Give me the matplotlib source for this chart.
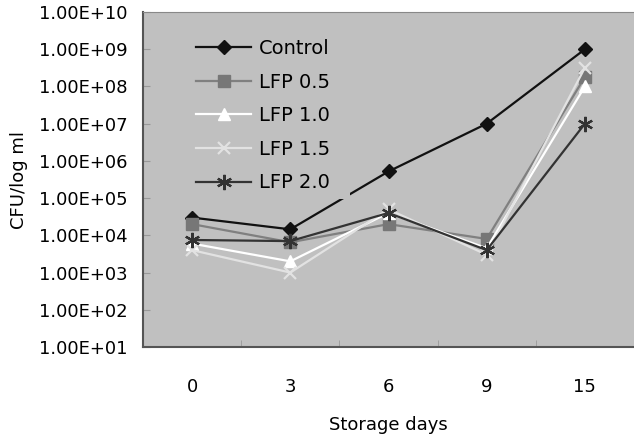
import matplotlib.pyplot as plt
from matplotlib.patches import Rectangle
import numpy as np

# storage days (category axis)
days = ["0", "3", "6", "9", "15"]

control = [3.0e4, 1.45e4, 5.2e5, 1.0e7, 1.0e9]
lfp05 = [2.0e4, 6.5e3, 2.0e4, 8.0e3, 1.8e8]
lfp10 = [6.0e3, 2.0e3, 4.0e4, 4.5e3, 1.0e8]
lfp15 = [4.0e3, 1.0e3, 5.0e4, 3.0e3, 3.2e8]
lfp20 = [7.5e3, 7.0e3, 4.0e4, 4.0e3, 1.0e7]

yticks = [1e1, 1e2, 1e3, 1e4, 1e5, 1e6, 1e7, 1e8, 1e9, 1e10]
ytick_labels = ["1.00E+01", "1.00E+02", "1.00E+03", "1.00E+04", "1.00E+05",
                "1.00E+06", "1.00E+07", "1.00E+08", "1.00E+09", "1.00E+10"]

plt.rcParams["font.family"] = ["DejaVu Sans"]

fig = plt.figure(figsize=(6.34, 4.36), dpi=100)
ax = fig.add_axes([143 / 634, 1 - 347 / 436, 1 - 143 / 634, 335 / 436])
ax.set_facecolor("#c0c0c0")

x = np.arange(len(days))
ax.plot(x, control, color="#111111", lw=1.6, marker="D", ms=7, mfc="#111111", mec="#111111", label="Control")
ax.plot(x, lfp05, color="#808080", lw=1.6, marker="s", ms=8, mfc="#777777", mec="#777777", label="LFP 0.5")
ax.plot(x, lfp10, color="#ffffff", lw=1.6, marker="^", ms=8, mfc="#ffffff", mec="#ffffff", label="LFP 1.0")
ax.plot(x, lfp15, color="#e2e2e2", lw=1.6, marker="x", ms=9, mew=1.6, mec="#e2e2e2", label="LFP 1.5")
ax.plot(x, lfp20, color="#333333", lw=1.6, marker=(6, 2, 0), ms=11, mew=1.6, mec="#333333", label="LFP 2.0")

ax.set_yscale("log")
ax.set_ylim(1e1, 1e10)
ax.set_yticks(yticks)
ax.set_yticklabels(ytick_labels)
ax.yaxis.set_minor_locator(plt.NullLocator())
ax.set_xlim(-0.5, len(days) - 0.5)
ax.set_xticks(x)
ax.set_xticklabels(days)
ax.set_xticks(np.arange(0.5, len(days) - 1, 1.0), minor=True)

ax.tick_params(axis="y", direction="in", length=5, color="#999999", labelsize=13, pad=11)
ax.tick_params(axis="x", which="major", length=0, labelsize=13, pad=22)
ax.tick_params(axis="x", which="minor", direction="in", length=5, color="#999999")

for side in ["left", "bottom"]:
    ax.spines[side].set_color("#555555")
    ax.spines[side].set_linewidth(1.5)
ax.spines["top"].set_color("#888888")
ax.spines["right"].set_visible(False)

ax.set_ylabel("CFU/log ml", fontsize=13, labelpad=8)
ax.set_xlabel("Storage days", fontsize=13, labelpad=15)

# legend box (plain grey, no border) sits over the lines like in the original
ax.add_patch(Rectangle((0.059, 0.442), 0.3625, 0.528, transform=ax.transAxes,
                       facecolor="#c0c0c0", edgecolor="none", zorder=4))
leg = ax.legend(loc="upper left", bbox_to_anchor=(0.065, 0.983), frameon=False, fontsize=14,
                handlelength=2.8, labelspacing=0.75, borderpad=0.6, handletextpad=0.4)
leg.set_zorder(5)

fig.savefig("out.png", dpi=100)
